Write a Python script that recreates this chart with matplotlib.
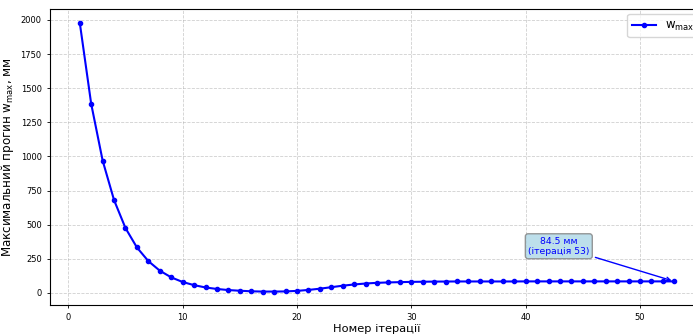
import numpy as np
import matplotlib
matplotlib.use("Agg")
import matplotlib.pyplot as plt

# значення максимального прогину по ітераціях
iterations = list(range(1, 54))
w_max = [1980, 1385, 970, 680, 475, 333, 233, 163, 114, 80,
         57, 40, 29, 21, 16, 12, 10, 10, 11, 15,
         22, 31, 42, 53, 62, 69, 74, 77, 79, 81,
         82, 83, 83.5, 84, 84, 84, 84, 84, 84, 84.5,
         84.5, 84.5, 84.5, 84.5, 84.5, 84.5, 84.5, 84.5, 84.5, 84.5,
         84.5, 84.5, 84.5]

fig = plt.figure(figsize=(6.93, 3.34), dpi=100)
ax = fig.add_axes([0.0722, 0.0868, 0.9437, 0.8856])

ax.plot(iterations, w_max, "b-o", linewidth=1.5, markersize=3,
        label=r"w$_{\mathrm{max}}$")
ax.set_xlabel("Номер ітерації", fontsize=8.2, labelpad=1.5)
ax.set_ylabel(r"Максимальний прогин w$_{\mathrm{max}}$, мм", fontsize=8.6, labelpad=3)
ax.tick_params(labelsize=6, length=2.5, width=0.6)
for s in ax.spines.values():
    s.set_linewidth(0.8)
ax.grid(True, linestyle="--", alpha=0.6, linewidth=0.6)
ax.legend(loc="upper right", fontsize=8.5, borderaxespad=0.4)

ax.annotate(f"{w_max[-1]} мм\n(ітерація {iterations[-1]})",
            xy=(iterations[-1], w_max[-1]), xytext=(42.9, 342),
            ha="center", va="center", fontsize=6.7, color="blue",
            bbox=dict(boxstyle="round,pad=0.3", facecolor="lightblue", edgecolor="gray", alpha=0.8),
            arrowprops=dict(arrowstyle="->", color="blue", lw=1))

fig.savefig("out.png", dpi=100)
